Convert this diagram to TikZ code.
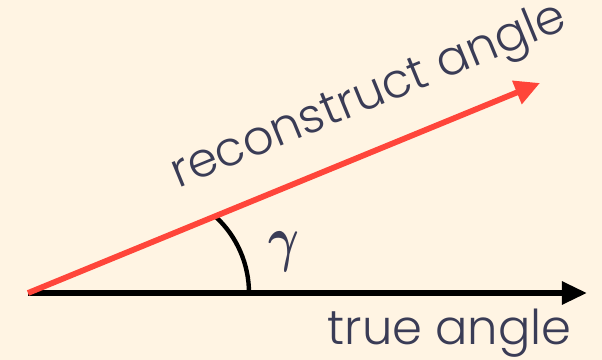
\documentclass[tikz,border=0pt]{standalone}
\usepackage{amsmath}
\usepackage{fontspec}
\setmainfont{Poppins}[UprightFont={* Light}]
\usetikzlibrary{arrows.meta, calc}
\definecolor{mycream}{RGB}{255,244,227}
\definecolor{myred}{RGB}{255,69,58}
\definecolor{myink}{RGB}{58,60,86}
\tikzset{
  truearrow/.style={-{Triangle[length=12.5pt, width=11pt]}, line width=2.8pt, color=black},
  recarrow/.style={-{Triangle[length=12.5pt, width=12pt]}, line width=2.9pt, color=myred},
  anglearc/.style={line width=2.2pt, color=black},
  lbl/.style={font=\fontsize{24}{28}\selectfont, text=myink, inner sep=0pt}
}
\begin{document}
\begin{tikzpicture}[x=0.5pt, y=-0.5pt]
  % background
  \fill[mycream] (0,0) rectangle (602,360);
  \useasboundingbox (0,0) rectangle (602,360);

  % end points
  \coordinate (O) at (28,293);
  \coordinate (T) at (587,293);
  \coordinate (R) at (540,83);

  % angle arc
  \draw[anglearc] (249,293) arc[start angle=0, end angle=-47, radius=104];

  % arrows
  \draw[truearrow] (O) -- (T);
  \draw[recarrow] (O) -- (R)
    node[lbl, pos=0.705, sloped, above=12pt] (rec) {reconstruct angle};

  % labels
  \node[lbl, anchor=base east] (tru) at (572,344) {true angle};
  \node[lbl, xscale=0.95, yscale=1.25] (gam) at (284,252) {$\boldsymbol{\gamma}$};
\end{tikzpicture}
\end{document}
